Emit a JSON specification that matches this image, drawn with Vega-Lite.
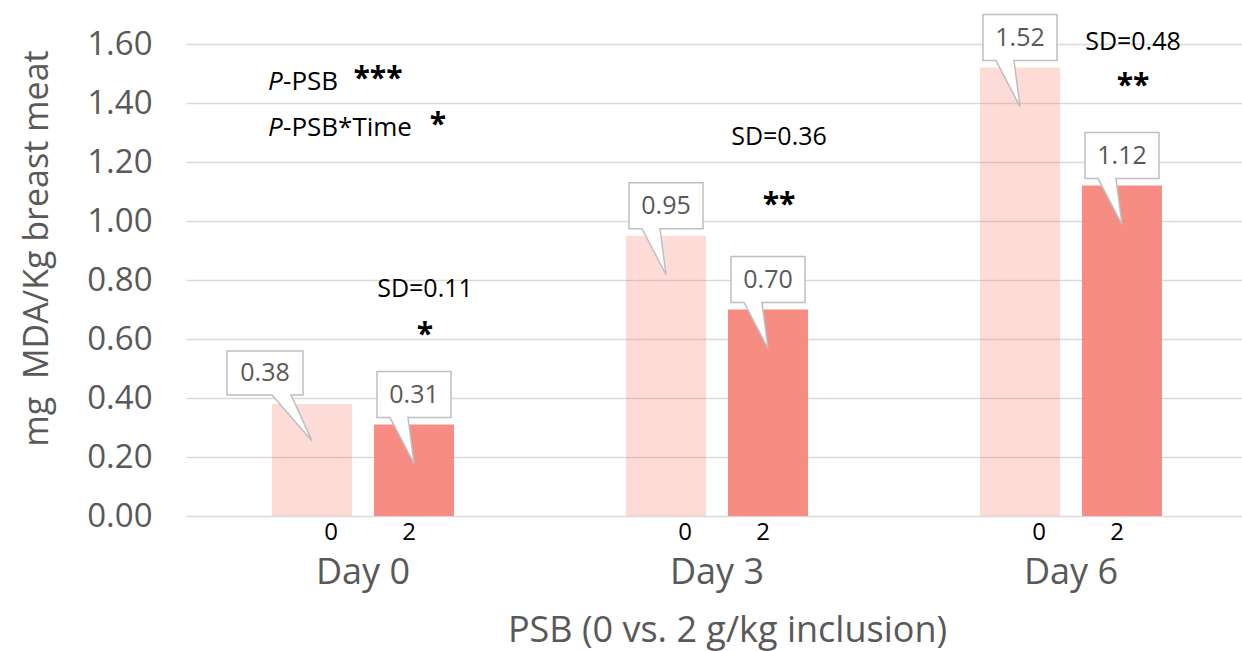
{
  "$schema": "https://vega.github.io/schema/vega-lite/v6.json",
  "width": 1056,
  "height": 472,
  "autosize": "none",
  "padding": {"left": 186, "top": 44, "right": 0, "bottom": 135},
  "background": "white",
  "config": {"view": {"stroke": null}, "font": "Open Sans"},
  "data": {"values": [
    {"Day": "Day 0", "PSB": "0", "MDA": 0.38},
    {"Day": "Day 0", "PSB": "2", "MDA": 0.31},
    {"Day": "Day 3", "PSB": "0", "MDA": 0.95},
    {"Day": "Day 3", "PSB": "2", "MDA": 0.70},
    {"Day": "Day 6", "PSB": "0", "MDA": 1.52},
    {"Day": "Day 6", "PSB": "2", "MDA": 1.12}
  ]},
  "layer": [
    {
      "mark": {"type": "bar", "color": "#F7877B"},
      "encoding": {
        "x": {"field": "Day", "type": "nominal",
          "scale": {"domain": ["Day 0", "Day 3", "Day 6"], "range": [0, 1062], "paddingInner": 0.4859, "paddingOuter": 0.243},
          "axis": {"labelAngle": 0, "labelFontSize": 36, "labelColor": "#595959", "labelPadding": 56, "labelBaseline": "middle",
            "ticks": false, "domain": false, "grid": false,
            "title": "PSB (0 vs. 2 g/kg inclusion)", "titleFontSize": 36, "titleColor": "#595959", "titleFontWeight": "normal",
            "titleY": 114, "titleX": 541, "titleBaseline": "middle"}},
        "xOffset": {"field": "PSB", "type": "nominal", "scale": {"domain": ["0", "2"], "paddingInner": 0.2157, "paddingOuter": 0}},
        "y": {"field": "MDA", "type": "quantitative",
          "scale": {"domain": [0, 1.6], "nice": false},
          "axis": {"values": [0, 0.2, 0.4, 0.6, 0.8, 1.0, 1.2, 1.4, 1.6], "format": ".2f",
            "labelFontSize": 33, "labelColor": "#595959", "labelPadding": 34, "ticks": false, "domain": false,
            "gridColor": "#D9D9D9", "gridWidth": 1.5,
            "title": "mg\u00a0 MDA/Kg breast meat", "titleFontSize": 34, "titleColor": "#595959", "titleFontWeight": "normal",
            "titleX": -149, "titleY": 204, "titleAngle": -90, "titleBaseline": "middle", "titleAlign": "center"}},
        "opacity": {"field": "PSB", "type": "nominal", "scale": {"domain": ["0", "2"], "range": [0.3, 0.95]}, "legend": null}
      }
    },
    {
      "transform": [{"filter": "!(datum.Day == 'Day 0' && datum.PSB == '0')"}],
      "mark": {"type": "point", "shape": "M-0.617,-0.883L0.617,-0.883L0.617,-0.117L-0.1,-0.117L0,0.65L-0.4,-0.117L-0.617,-0.117Z",
        "size": 14400, "filled": true, "fill": "white", "stroke": "#BFBFBF", "strokeWidth": 1.5, "opacity": 1},
      "encoding": {
        "x": {"field": "Day", "type": "nominal"},
        "xOffset": {"field": "PSB", "type": "nominal"},
        "y": {"field": "MDA", "type": "quantitative"}
      }
    },
    {
      "transform": [{"filter": "datum.Day == 'Day 0' && datum.PSB == '0'"}],
      "mark": {"type": "point", "shape": "M-1.417,-0.883L-0.15,-0.883L-0.15,-0.15L-0.35,-0.15L0,0.617L-0.667,-0.15L-1.417,-0.15Z",
        "size": 14400, "filled": true, "fill": "white", "stroke": "#BFBFBF", "strokeWidth": 1.5, "opacity": 1},
      "encoding": {
        "x": {"field": "Day", "type": "nominal"},
        "xOffset": {"field": "PSB", "type": "nominal"},
        "y": {"field": "MDA", "type": "quantitative"}
      }
    },
    {
      "transform": [{"filter": "!(datum.Day == 'Day 0' && datum.PSB == '0')"}],
      "mark": {"type": "text", "fontSize": 25, "color": "#595959", "baseline": "middle", "dy": -30},
      "encoding": {
        "x": {"field": "Day", "type": "nominal"},
        "xOffset": {"field": "PSB", "type": "nominal"},
        "y": {"field": "MDA", "type": "quantitative"},
        "text": {"field": "MDA", "type": "quantitative", "format": ".2f"}
      }
    },
    {
      "transform": [{"filter": "datum.Day == 'Day 0' && datum.PSB == '0'"}],
      "mark": {"type": "text", "fontSize": 25, "color": "#595959", "baseline": "middle", "dy": -31, "dx": -47},
      "encoding": {
        "x": {"field": "Day", "type": "nominal"},
        "xOffset": {"field": "PSB", "type": "nominal"},
        "y": {"field": "MDA", "type": "quantitative"},
        "text": {"field": "MDA", "type": "quantitative", "format": ".2f"}
      }
    },
    {
      "transform": [{"filter": "datum.PSB == '0'"}],
      "mark": {"type": "text", "fontSize": 24, "color": "black", "baseline": "middle", "dy": 17, "dx": 19},
      "encoding": {
        "x": {"field": "Day", "type": "nominal"},
        "xOffset": {"field": "PSB", "type": "nominal"},
        "y": {"datum": 0},
        "text": {"field": "PSB", "type": "nominal"}
      }
    },
    {
      "transform": [{"filter": "datum.PSB == '2'"}],
      "mark": {"type": "text", "fontSize": 24, "color": "black", "baseline": "middle", "dy": 17, "dx": -5},
      "encoding": {
        "x": {"field": "Day", "type": "nominal"},
        "xOffset": {"field": "PSB", "type": "nominal"},
        "y": {"datum": 0},
        "text": {"field": "PSB", "type": "nominal"}
      }
    },
    {
      "data": {"values": [
        {"Day": "Day 0", "PSB": "2", "v": 0.77, "note": "SD=0.11"},
        {"Day": "Day 3", "PSB": "2", "v": 1.286, "note": "SD=0.36"},
        {"Day": "Day 6", "PSB": "2", "v": 1.608, "note": "SD=0.48"}
      ]},
      "mark": {"type": "text", "fontSize": 25, "color": "black", "baseline": "middle", "dx": 11},
      "encoding": {
        "x": {"field": "Day", "type": "nominal"},
        "xOffset": {"field": "PSB", "type": "nominal"},
        "y": {"field": "v", "type": "quantitative"},
        "text": {"field": "note", "type": "nominal"}
      }
    },
    {
      "data": {"values": [
        {"Day": "Day 0", "PSB": "2", "v": 0.583, "note": "*"},
        {"Day": "Day 3", "PSB": "2", "v": 1.025, "note": "**"},
        {"Day": "Day 6", "PSB": "2", "v": 1.428, "note": "**"}
      ]},
      "mark": {"type": "text", "fontSize": 30, "fontWeight": "bold", "color": "black", "baseline": "alphabetic", "dx": 11},
      "encoding": {
        "x": {"field": "Day", "type": "nominal"},
        "xOffset": {"field": "PSB", "type": "nominal"},
        "y": {"field": "v", "type": "quantitative"},
        "text": {"field": "note", "type": "nominal"}
      }
    },
    {
      "data": {"values": [
        {"Day": "Day 0", "v": 1.472, "note": "P"},
        {"Day": "Day 0", "v": 1.316, "note": "P"}
      ]},
      "mark": {"type": "text", "fontSize": 26, "fontStyle": "italic", "color": "black", "baseline": "middle", "align": "left", "dx": -95},
      "encoding": {
        "x": {"field": "Day", "type": "nominal"},
        "y": {"field": "v", "type": "quantitative"},
        "text": {"field": "note", "type": "nominal"}
      }
    },
    {
      "data": {"values": [
        {"Day": "Day 0", "v": 1.472, "note": "-PSB"},
        {"Day": "Day 0", "v": 1.316, "note": "-PSB*Time"}
      ]},
      "mark": {"type": "text", "fontSize": 26, "color": "black", "baseline": "middle", "align": "left", "dx": -80},
      "encoding": {
        "x": {"field": "Day", "type": "nominal"},
        "y": {"field": "v", "type": "quantitative"},
        "text": {"field": "note", "type": "nominal"}
      }
    },
    {
      "data": {"values": [{"Day": "Day 0", "v": 1.452, "note": "***"}]},
      "mark": {"type": "text", "fontSize": 30, "fontWeight": "bold", "color": "black", "baseline": "alphabetic", "dx": 15},
      "encoding": {
        "x": {"field": "Day", "type": "nominal"},
        "y": {"field": "v", "type": "quantitative"},
        "text": {"field": "note", "type": "nominal"}
      }
    },
    {
      "data": {"values": [{"Day": "Day 0", "v": 1.296, "note": "*"}]},
      "mark": {"type": "text", "fontSize": 30, "fontWeight": "bold", "color": "black", "baseline": "alphabetic", "dx": 75},
      "encoding": {
        "x": {"field": "Day", "type": "nominal"},
        "y": {"field": "v", "type": "quantitative"},
        "text": {"field": "note", "type": "nominal"}
      }
    }
  ]
}
